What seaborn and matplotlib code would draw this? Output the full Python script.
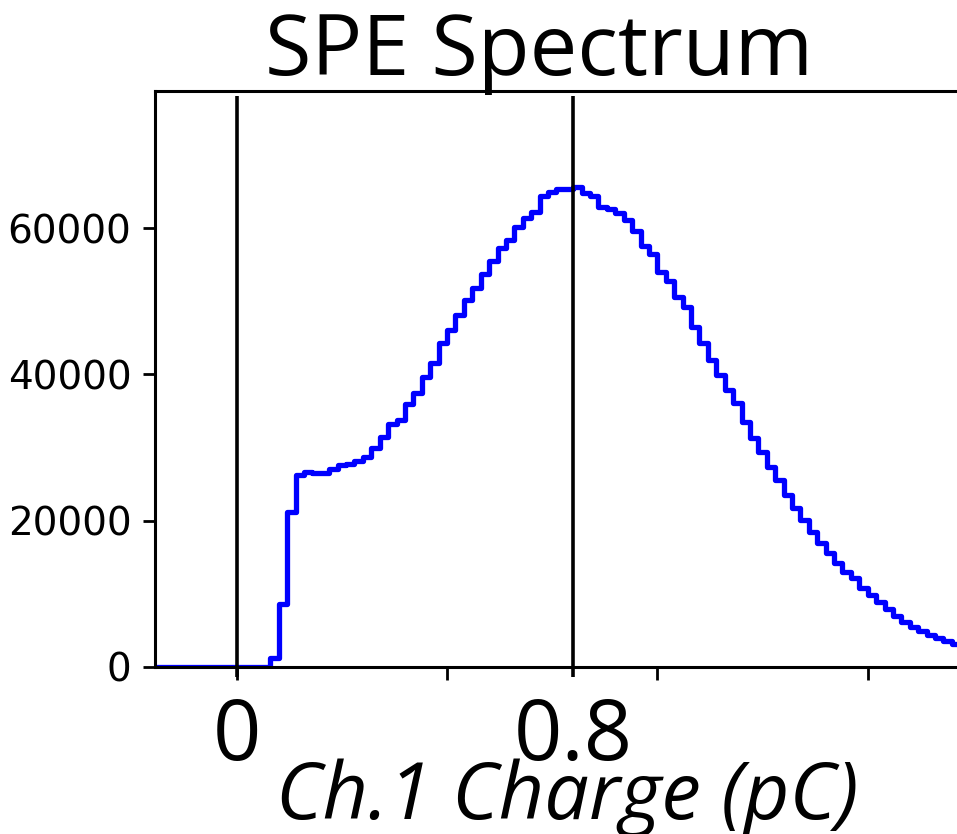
import matplotlib
matplotlib.use("Agg")
import numpy as np
import pandas as pd
import seaborn as sns
import matplotlib.pyplot as plt
from matplotlib import font_manager
from matplotlib.transforms import blended_transform_factory

# ---------------- data ----------------
bin_start = -0.20
bin_width = 0.02
counts = [
    0, 0, 0, 0, 0, 0, 0, 0, 0, 0,          # -0.20 .. -0.02
    0, 0, 0, 0,                            # 0.00 .. 0.06
    1200, 8600, 21200, 26200, 26600,       # 0.08 .. 0.16
    26500, 26500, 27000, 27600, 27700,     # 0.18 .. 0.26
    28100, 28750, 29900, 31400, 33200,     # 0.28 .. 0.36
    33800, 35900, 37400, 39600, 41600,     # 0.38 .. 0.46
    44250, 46000, 48120, 50170, 51770,     # 0.48 .. 0.56
    53720, 55500, 57230, 58370, 60190,     # 0.58 .. 0.66
    61330, 62240, 64430, 64980, 65300,     # 0.68 .. 0.76
    65340, 65550, 64800, 64400, 62900,     # 0.78 .. 0.86
    62600, 62000, 61100, 59600, 57600,     # 0.88 .. 0.96
    56500, 54000, 52700, 50600, 49250,     # 0.98 .. 1.06
    46500, 44350, 41970, 39900, 37900,     # 1.08 .. 1.16
    36050, 33530, 31260, 29430, 27380,     # 1.18 .. 1.26
    25560, 23510, 21690, 20090, 18490,     # 1.28 .. 1.36
    16910, 15540, 14260, 13030, 12120,     # 1.38 .. 1.46
    10760, 9840, 8930, 7880, 6970,         # 1.48 .. 1.56
    6190, 5510, 4960, 4370, 3920,          # 1.58 .. 1.66
    3550, 3200,                            # 1.68 .. 1.70
]
marker_x = [0.0, 0.8]
y_ticks = [0, 20000, 40000, 60000]
x_ticks = [0.0, 0.5, 1.0, 1.5]
x_marker_labels = ["0", "0.8"]
title_text = "SPE Spectrum"
xlabel_text = "Ch.1 Charge (pC)"

bin_left = np.round(bin_start + bin_width * np.arange(len(counts)), 4)
centers = bin_left + bin_width / 2
edges = [float(e) for e in np.append(bin_left, bin_left[-1] + bin_width)]
df = pd.DataFrame({"charge": centers, "count": np.asarray(counts, dtype=float)})

# ---------------- style ----------------
sns.set_theme(style="ticks")
names = {f.name for f in font_manager.fontManager.ttflist}
label_font = next(n for n in ["Open Sans", "Lato", "Noto Sans", "DejaVu Sans"] if n in names)
plt.rcParams["font.family"] = ["DejaVu Sans"]

W, H, DPI = 957, 834, 100
fig = plt.figure(figsize=(W / DPI, H / DPI), dpi=DPI)
fig.patch.set_facecolor("white")
ax = fig.add_axes([155 / W, 1 - 667 / H, (W - 155) / W + 0.01, (667 - 90.7) / H])
ax.set_facecolor("white")

sns.histplot(data=df, x="charge", weights="count", bins=edges, element="step",
             fill=False, color="#0000FF", linewidth=3.8, ax=ax, zorder=2)

ax.vlines(marker_x, ymin=-1300, ymax=78000, colors="black", linewidth=2.6,
          zorder=3, clip_on=False)

ax.set_xlim(-0.1942, 1.735)
ax.set_ylim(0, 78780)
ax.set_xlabel("")
ax.set_ylabel("")
ax.set_xticks(x_ticks)
ax.set_xticklabels([])
ax.set_yticks(y_ticks)
ax.set_yticklabels([str(v) for v in y_ticks], fontsize=28, family="DejaVu Sans",
                   color="black")
ax.tick_params(axis="both", direction="out", length=9, width=2, color="black",
               labelcolor="black")
ax.tick_params(axis="y", pad=8)
for side in ["left", "bottom", "top"]:
    ax.spines[side].set_linewidth(2.2)
    ax.spines[side].set_color("black")
ax.spines["right"].set_visible(False)

# big overlay labels
trans = blended_transform_factory(ax.transData, fig.transFigure)
for xv, lab in zip(marker_x, x_marker_labels):
    ax.text(xv, 1 - 760 / H, lab, transform=trans, ha="center", va="baseline",
            fontsize=61, family=label_font, color="black", clip_on=False)

fig.text(567 / W, 1 - 819 / H, xlabel_text, ha="center", va="baseline",
         fontsize=57, family=label_font, style="italic", color="black")
fig.text(539 / W, 1 - 75 / H, title_text, ha="center", va="baseline",
         fontsize=61, family=label_font, color="black")

fig.savefig("out.png", dpi=DPI, facecolor="white")
